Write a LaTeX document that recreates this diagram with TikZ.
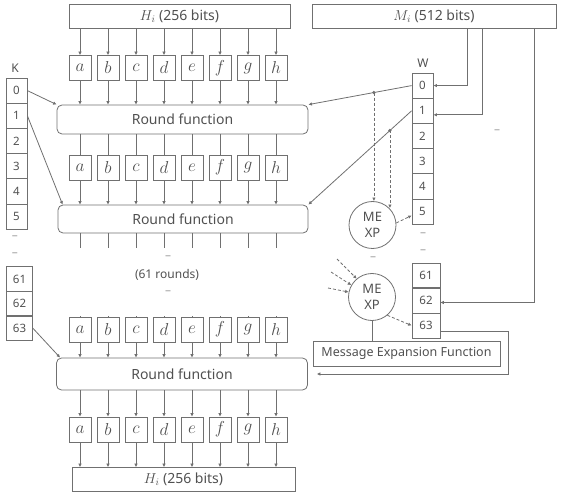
\documentclass[tikz,border=0pt]{standalone}
\usepackage{fontspec}
\setsansfont{Noto Sans}
\usetikzlibrary{arrows.meta,positioning,calc}
\definecolor{shaline}{RGB}{112,112,112}
\definecolor{shatext}{RGB}{80,80,80}
\definecolor{shagap}{RGB}{160,160,160}

\begin{document}
\begin{tikzpicture}[x=1pt, y=-1pt,
    line width=0.8pt,
    box/.style={rectangle, draw=shaline, inner sep=0pt, text=shatext},
    hbox/.style={box, minimum height=24pt, font=\sffamily\fontsize{14}{16}\selectfont},
    letterbox/.style={box, minimum width=22pt, minimum height=25pt, font=\fontsize{17}{19}\selectfont},
    roundbox/.style={box, rounded corners=5pt, minimum width=251pt, minimum height=29pt, font=\sffamily\fontsize{14}{16}\selectfont},
    kbox/.style={box, minimum width=21pt, minimum height=25.2pt, font=\sffamily\fontsize{11.5}{13}\selectfont},
    widebox/.style={kbox, minimum width=26pt, minimum height=24.8pt},
    mexp/.style={circle, draw=shaline, minimum size=47pt, inner sep=0pt, align=center, text=shatext,
      font=\sffamily\fontsize{13}{16}\selectfont},
    collabel/.style={text=shatext, font=\sffamily\fontsize{12}{14}\selectfont},
    ellip/.style={text=shagap, font=\sffamily\fontsize{12}{14}\selectfont},
    link/.style={draw=shaline},
    arr/.style={-{Latex[length=3.5pt, width=3.5pt]}, draw=shaline},
    dasharr/.style={arr, dash pattern=on 3pt off 2pt},
  ]
  \useasboundingbox (0,0) rectangle (562,494);

  % input / output words
  \node[hbox, minimum width=221pt] (hin) at (179.5,16.5) {$H_i$ (256 bits)};
  \node[hbox, minimum width=244pt] (msg) at (434,16) {$M_i$ (512 bits)};
  \node[hbox, minimum width=223pt] (hout) at (183.5,479.5) {$H_i$ (256 bits)};

  % round functions
  \node[roundbox] (rf1) at (182.5,119.5) {Round function};
  \node[roundbox, minimum width=250pt, minimum height=28pt] (rf2) at (183,219) {Round function};
  \node[roundbox, minimum height=32pt] (rf3) at (182,374) {Round function};

  % working variables
  \foreach \l [count=\i] in {a,b,c,d,e,f,g,h} {
    \node[letterbox] (ra\i) at (52+28*\i,68) {$\l$};
    \node[letterbox] (rb\i) at (52+28*\i,167.5) {$\l$};
    \node[letterbox] (rc\i) at (52+28*\i,329.5) {$\l$};
    \node[letterbox] (rd\i) at (52+28*\i,429.5) {$\l$};
    \draw[arr] (ra\i |- hin.south) -- (ra\i);
    \draw[arr] (ra\i) -- (ra\i |- rf1.north);
    \draw[link] (rb\i |- rf1.south) -- (rb\i);
    \draw[arr] (rb\i) -- (rb\i |- rf2.north);
    \draw[link] (rb\i |- rf2.south) -- ++(0,15);
    \draw[link] (rc\i) -- ++(0,-14);
    \draw[arr] (rc\i) -- (rc\i |- rf3.north);
    \draw[arr] (rd\i |- rf3.south) -- (rd\i);
    \draw[arr] (rd\i) -- (rd\i |- hout.north);
  }
  \node[ellip] (gapa) at (168,258) {--};
  \node[collabel] (rounds) at (167,275) {(61 rounds)};
  \node[ellip] (gapb) at (168,293) {--};

  % constants K
  \node[collabel] (klabel) at (15,68) {K};
  \foreach \n in {0,...,5}
    \node[kbox] (k\n) at (16.5,90.6+25.2*\n) {\n};
  \node[ellip] (kgapa) at (15,238) {--};
  \node[ellip] (kgapb) at (15,255) {--};
  \foreach \n in {61,62,63}
    \node[widebox] (k\n) at (19.5,279.25+24.5*\n-1494.5) {\n};

  % message schedule W
  \node[collabel] (wlabel) at (423,63) {W};
  \foreach \n in {0,...,5}
    \node[kbox] (w\n) at (422.5,85.6+25.2*\n) {\n};
  \node[ellip] (wgapa) at (423,235) {--};
  \node[ellip] (wgapb) at (423,252) {--};
  \foreach \n in {61,62,63}
    \node[widebox, minimum width=28pt] (w\n) at (426,275.5+25*\n-1525) {\n};
  \node[ellip] (wgapc) at (497,132) {--};

  % message expansion
  \node[mexp] (mexp1) at (372.5,225) {ME\\XP};
  \node[ellip] (mgap) at (373,259) {--};
  \node[mexp] (mexp2) at (372,297) {ME\\XP};
  \node[box, minimum width=187pt, minimum height=25pt, font=\sffamily\fontsize{12.5}{14}\selectfont]
    (mef) at (406.5,353.5) {Message Expansion Function};

  % K into rounds
  \draw[arr] (k0.east) -- (rf1.north west);
  \draw[arr] (k1.east) -- ([xshift=5pt]rf2.north west);
  \draw[arr] (k63.east) -- ([xshift=4pt]rf3.north west);

  % M into W
  \draw[arr] ([xshift=156pt]msg.south west) |- (w0.east);
  \draw[arr] ([xshift=171pt]msg.south west) |- ([yshift=-4pt]w1.east);
  \draw[arr] ([xshift=223pt]msg.south west) |- ([yshift=-2pt]w62.east);

  % W into rounds, taps into expansion
  \draw[arr] (w0.west) -- (rf1.north east);
  \draw[arr] (w1.west) -- (rf2.north east);
  \coordinate (tap1) at ($(w0.west)!0.365!(rf1.north east)$);
  \coordinate (tap2) at ($(w1.west)!0.21!(rf2.north east)$);
  \fill[shaline] (tap1) circle[radius=1.8pt];
  \fill[shaline] (tap2) circle[radius=1.8pt];
  \draw[dasharr] (tap1) -- (tap1 |- mexp1.north);
  \draw[dasharr] (tap2) -- (tap2 |- mexp1.north east);
  \draw[dasharr] (mexp1.5) -- ([yshift=-4pt]w5.west);

  \coordinate (in1) at (337,259);
  \coordinate (in2) at (331,272);
  \coordinate (in3) at (328,288);
  \draw[dasharr] (in1) -- (mexp2.130);
  \draw[dasharr] (in2) -- (mexp2.150);
  \draw[dasharr] (in3) -- (mexp2.168);
  \draw[dasharr] (mexp2.-50) -- (w63.west);
  \draw[link] (mexp2.south) -- (mexp2.south |- mef.north);

  % last W back to the round
  \draw[arr] ([yshift=-6pt]w63.east) -- ++(68,0) |- ([xshift=9pt]rf3.east);
\end{tikzpicture}
\end{document}
